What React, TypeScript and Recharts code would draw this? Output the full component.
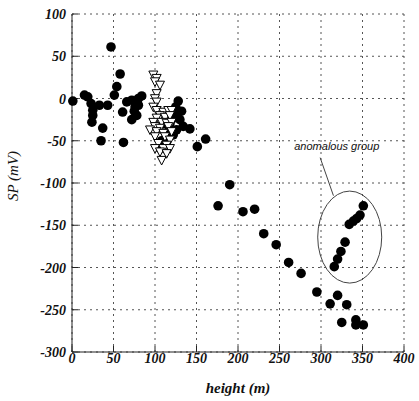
import { ScatterChart, Scatter, XAxis, YAxis, CartesianGrid, ReferenceDot, ReferenceLine } from 'recharts';

// filled circles: height (m), SP (mV)
const mainHeights = [1, 15, 19, 23, 25, 33, 43, 25, 24, 37, 35, 62, 47, 58, 54, 51, 61, 66, 72, 76, 72, 80, 84, 75, 80, 78,
  128, 124, 130, 134, 126, 122, 142, 118, 106, 112, 151, 161, 108, 115, 120, 125, 110, 132,
  190, 176, 206, 220, 231, 246, 261, 276, 295, 320, 311, 331, 325, 342, 342, 351];
const mainSP = [-3, 4, 2, -6, -14, -8, -8, -20, -28, -35, -50, -52, 61, 29, 14, 4, -16, -4, -2, -10, -25, 0, 3, -15, -8, -20,
  -3, -20, -25, -33, -37, -43, -36, -30, -59, -50, -57, -48, -50, -40, -25, -10, -30, -15,
  -102, -127, -134, -131, -160, -173, -194, -207, -229, -233, -243, -244, -265, -262, -268, -268];

// anomalous group (also filled circles)
const anomHeights = [351, 347, 343, 339, 334, 329, 324, 320, 316];
const anomSP = [-127, -138, -142, -145, -149, -170, -181, -190, -199];

// open triangles
const triHeights = [98, 102, 100, 106, 102, 100, 102, 98, 102, 110, 116, 120, 106, 102, 112, 118, 98, 108, 114, 120,
  100, 106, 116, 94, 102, 110, 120, 100, 112, 118, 104, 114, 100, 110, 118, 106, 114, 108];
const triSP = [28, 24, 20, 16, 6, 0, -4, -10, -14, -16, -14, -14, -20, -23, -22, -20, -28, -28, -29, -28,
  -33, -35, -33, -37, -39, -41, -39, -45, -45, -49, -53, -55, -59, -59, -59, -63, -65, -73];

const xTicks = [0, 50, 100, 150, 200, 250, 300, 350, 400];
const yTicks = [100, 50, 0, -50, -100, -150, -200, -250, -300];

const mainData = mainHeights.map((x, i) => ({ x, y: mainSP[i] }));
const anomData = anomHeights.map((x, i) => ({ x, y: anomSP[i] }));
const triData = triHeights.map((x, i) => ({ x, y: triSP[i] }));

const SERIF = 'Times New Roman, Liberation Serif, serif';

const XTick = (props: any) => (
  <text x={props.x} y={props.y + 11} textAnchor="middle" fontFamily={SERIF} fontWeight="bold" fontStyle="italic" fontSize={14} fill="#111">
    {props.payload.value}
  </text>
);

const YTick = (props: any) => (
  <text x={props.x} y={props.y + 5} textAnchor="end" fontFamily={SERIF} fontWeight="bold" fontStyle="italic" fontSize={14} fill="#111">
    {props.payload.value}
  </text>
);

const Dot = (props: any) => <circle cx={props.cx} cy={props.cy} r={4.8} fill="#000" />;

const Tri = (props: any) => {
  const { cx, cy } = props;
  return (
    <path
      d={`M${cx - 4.5},${cy - 3.8} L${cx + 4.5},${cy - 3.8} L${cx},${cy + 4.8} Z`}
      fill="#fff"
      stroke="#000"
      strokeWidth={1}
    />
  );
};

export default function App() {
  return (
    <div style={{ position: 'absolute', left: 0, top: 0, background: '#fff' }}>
      <ScatterChart width={419} height={401} margin={{ top: 14, right: 15, bottom: 0, left: 0 }}>
        <CartesianGrid stroke="#555" strokeDasharray="2 4" />
        <XAxis
          type="number"
          dataKey="x"
          domain={[0, 400]}
          ticks={xTicks}
          height={49}
          tickSize={-6}
          tickMargin={6}
          stroke="#222"
          tick={XTick}
        />
        <XAxis xAxisId="top" orientation="top" type="number" domain={[0, 400]} ticks={xTicks} height={0} tickSize={-6} tick={false} stroke="#222" />
        <YAxis
          type="number"
          dataKey="y"
          domain={[-300, 100]}
          ticks={yTicks}
          width={72}
          tickSize={-6}
          tickMargin={12}
          stroke="#222"
          tick={YTick}
        />
        <YAxis yAxisId="right" orientation="right" type="number" domain={[-300, 100]} ticks={yTicks} width={0} tickSize={-6} tick={false} stroke="#222" />
        <Scatter data={mainData} shape={Dot} isAnimationActive={false} />
        <Scatter data={anomData} shape={Dot} isAnimationActive={false} />
        <Scatter data={triData} shape={Tri} isAnimationActive={false} />
        <ReferenceDot
          x={334.6}
          y={-164}
          shape={(p: any) => <ellipse cx={p.cx} cy={p.cy} rx={32} ry={46} fill="none" stroke="#444" strokeWidth={1} />}
        />
        <ReferenceLine segment={[{ x: 299, y: -70 }, { x: 315, y: -115 }]} stroke="#444" strokeWidth={1} />
        <ReferenceDot
          x={319}
          y={-56}
          shape={(p: any) => (
            <text x={p.cx} y={p.cy + 4} textAnchor="middle" fontFamily="Liberation Sans, Arial, sans-serif" fontStyle="italic" fontSize={11} fill="#111">
              anomalous group
            </text>
          )}
        />
        <text x={238} y={393} textAnchor="middle" fontFamily={SERIF} fontWeight="bold" fontStyle="italic" fontSize={15} fill="#111">height (m)</text>
        <text x={18} y={176} textAnchor="middle" transform="rotate(-90 18 176)" fontFamily={SERIF} fontStyle="italic" fontSize={15} fill="#111">SP (mV)</text>
      </ScatterChart>
    </div>
  );
}
